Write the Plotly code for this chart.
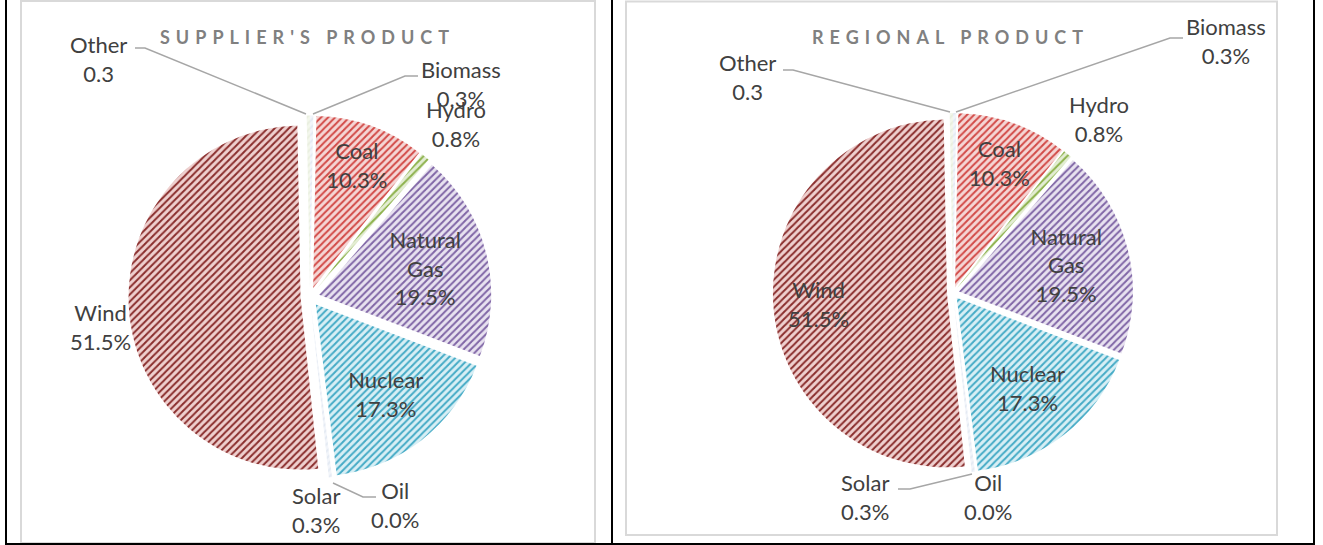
import plotly.graph_objects as go

W, H = 1323, 545

# ---- data ----
sources = ["Biomass", "Coal", "Hydro", "Natural Gas", "Nuclear", "Oil", "Solar", "Wind", "Other"]
supplier_share = [0.3, 10.3, 0.8, 19.5, 17.3, 0.0, 0.3, 51.5, 0.3]
regional_share = [0.3, 10.3, 0.8, 19.5, 17.3, 0.0, 0.3, 51.5, 0.3]
value_suffix = ["%", "%", "%", "%", "%", "%", "%", "%", ""]
chart_titles = ["SUPPLIER'S PRODUCT", "REGIONAL PRODUCT"]

# ---- styles ----
fg_colors = ["#E4EAF3", "#D24A47", "#8DB24C", "#8066A6", "#45ABC6", "#F79646", "#E4EAF3", "#8A2E2D", "#E9EFDF"]
bg_colors = ["#F2F5FA", "#F5D6D5", "#E3EDD3", "#E8E2F0", "#D8EFF5", "#FDE9D9", "#F2F5FA", "#EFD0CF", "#F3F7EC"]
TXT = "#404040"
FONT = "Lato"
LSIZE = 22


def px(x):
    return x / W


def py(y):
    return 1 - y / H


def label_text(i, values, multiline_name=False):
    name = sources[i].replace(" ", "<br>") if multiline_name else sources[i]
    return f"{name}<br>{values[i]:.1f}{value_suffix[i]}"


fig = go.Figure()

pies = [
    dict(values=supplier_share, cx=310, cy=297, r=172, pull=0.055,
         inside=["Coal", "Natural Gas", "Nuclear"]),
    dict(values=regional_share, cx=953, cy=293, r=174, pull=0.035,
         inside=["Coal", "Natural Gas", "Nuclear"]),
]

for p in pies:
    box = 2 * p["r"] * (1 + p["pull"])
    texts, pos = [], []
    for i, s in enumerate(sources):
        if s in p["inside"]:
            texts.append(label_text(i, p["values"], multiline_name=True))
            pos.append("inside")
        else:
            texts.append("")
            pos.append("none")
    fig.add_trace(go.Pie(
        labels=sources, values=p["values"], sort=False, direction="clockwise", rotation=0,
        pull=[p["pull"]] * len(sources),
        text=texts, textinfo="text", textposition=pos, insidetextorientation="horizontal",
        insidetextfont=dict(family=FONT, size=LSIZE, color=TXT),
        marker=dict(colors=bg_colors, line=dict(width=0),
                    pattern=dict(shape="/", fgcolor=fg_colors, bgcolor=bg_colors,
                                 size=5, solidity=0.4, fillmode="replace")),
        domain=dict(x=[px(p["cx"] - box / 2 - 20), px(p["cx"] + box / 2 + 20)],
                    y=[py(p["cy"] + box / 2), py(p["cy"] - box / 2)]),
        hoverinfo="label+percent", showlegend=False,
    ))

annotations = []
# titles
for t, x in zip(chart_titles, [307, 950]):
    annotations.append(dict(x=px(x), y=py(37), text=f"<b>{t}</b>", showarrow=False,
                            xref="paper", yref="paper", xanchor="center", yanchor="middle",
                            font=dict(family=FONT, size=18, color="#808080")))

# labels placed beside the pies (source, x, y-centre) per chart
outside = [
    [("Other", 98, 59), ("Biomass", 461, 84), ("Hydro", 456, 124), ("Wind", 100, 327),
     ("Solar", 316, 510), ("Oil", 395, 505)],
    [("Other", 747, 77), ("Biomass", 1226, 41), ("Hydro", 1099, 119), ("Wind", 818, 304),
     ("Solar", 865, 497), ("Oil", 988, 497)],
]
for p, labs in zip(pies, outside):
    for name, x, y in labs:
        i = sources.index(name)
        annotations.append(dict(x=px(x), y=py(y), text=label_text(i, p["values"]), showarrow=False,
                                xref="paper", yref="paper", xanchor="center", yanchor="middle",
                                font=dict(family=FONT, size=LSIZE, color=TXT)))

shapes = []
# leader lines
leaders = [
    [(135, 48), (145, 48), (306, 114)],
    [(313, 114), (405, 76), (418, 76)],
    [(333, 483), (363, 497), (376, 497)],
    [(783, 70), (793, 70), (950, 112)],
    [(956, 112), (1170, 38), (1183, 38)],
    [(898, 489), (910, 489), (972, 474)],
]
for pts in leaders:
    path = "M " + " L ".join(f"{px(x)},{py(y)}" for x, y in pts)
    shapes.append(dict(type="path", path=path, xref="paper", yref="paper",
                       line=dict(color="#A6A6A6", width=1.5)))

# chart-area frames (light grey)
for x0, y0, x1, y1 in [(21, 1, 595, 543), (626, 1.5, 1277, 535)]:
    shapes.append(dict(type="rect", x0=px(x0), x1=px(x1), y0=py(y0), y1=py(y1),
                       xref="paper", yref="paper", line=dict(color="#D9D9D9", width=2)))
# table borders (black)
for x in [6, 612, 1314]:
    shapes.append(dict(type="line", x0=px(x), x1=px(x), y0=py(0), y1=py(545),
                       xref="paper", yref="paper", line=dict(color="black", width=2)))
shapes.append(dict(type="line", x0=px(6), x1=px(1314), y0=py(544), y1=py(544),
                   xref="paper", yref="paper", line=dict(color="black", width=2)))

fig.update_layout(
    width=W, height=H, margin=dict(l=0, r=0, t=0, b=0),
    paper_bgcolor="white", plot_bgcolor="white",
    annotations=annotations, shapes=shapes,
    font=dict(family=FONT, color=TXT),
)

post = """
document.body.style.margin = '0';
document.body.style.padding = '0';
document.querySelectorAll('text.annotation-text').forEach(function(t){
  if (t.textContent.indexOf('PRODUCT') >= 0) { t.style.letterSpacing = '6px'; }
});
"""
fig.write_html("out.html", post_script=post, config={"displayModeBar": False})
